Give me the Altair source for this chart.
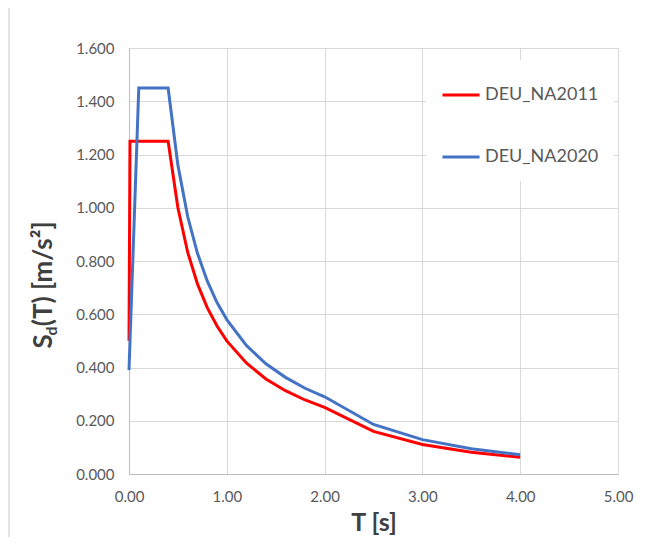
import altair as alt
import pandas as pd

SERIES = ["DEU_NA2011", "DEU_NA2020"]
COLORS = ["#FF0000", "#4472C4"]

T_2011 = [0.0, 0.01, 0.4, 0.5, 0.6, 0.7, 0.8, 0.9, 1.0, 1.2, 1.4, 1.6, 1.8, 2.0, 2.5, 3.0, 3.5, 4.0]
SD_2011 = [0.50, 1.25, 1.25, 1.00, 0.833, 0.714, 0.625, 0.556, 0.50, 0.417, 0.357, 0.313, 0.278, 0.25, 0.16, 0.111, 0.082, 0.0625]

T_2020 = [0.0, 0.1, 0.4, 0.5, 0.6, 0.7, 0.8, 0.9, 1.0, 1.2, 1.4, 1.6, 1.8, 2.0, 2.5, 3.0, 3.5, 4.0]
SD_2020 = [0.39, 1.45, 1.45, 1.16, 0.967, 0.829, 0.725, 0.644, 0.58, 0.483, 0.414, 0.363, 0.322, 0.29, 0.186, 0.129, 0.095, 0.0725]

X_TICKS = [0, 1, 2, 3, 4, 5]
Y_TICKS = [0.0, 0.2, 0.4, 0.6, 0.8, 1.0, 1.2, 1.4, 1.6]

df = pd.DataFrame({
    "T": T_2011 + T_2020,
    "Sd": SD_2011 + SD_2020,
    "series": [SERIES[0]] * len(T_2011) + [SERIES[1]] * len(T_2020),
    "idx": list(range(len(T_2011))) + list(range(len(T_2020))),
})

W, H = 489, 426
LABEL_COLOR = "#595959"
TITLE_COLOR = "#404040"

lines = alt.Chart(df).mark_line(strokeWidth=3).encode(
    x=alt.X("T:Q", scale=alt.Scale(domain=[0, 5], nice=False),
            axis=alt.Axis(values=X_TICKS, format=".2f", title="T [s]",
                          labelPadding=15, titlePadding=6, labelFlush=False,
                          titleFont="Lato", titleFontWeight="bold",
                          titleFontSize=25, titleColor=TITLE_COLOR)),
    y=alt.Y("Sd:Q", scale=alt.Scale(domain=[0, 1.6], nice=False),
            axis=alt.Axis(values=Y_TICKS, format=".3f", title=None,
                          labelPadding=15, labelFlush=False)),
    color=alt.Color("series:N",
                    scale=alt.Scale(domain=SERIES, range=COLORS),
                    legend=alt.Legend(title=None, orient="none",
                                      legendX=297, legendY=12,
                                      padding=15, fillColor="white",
                                      symbolType="stroke", symbolSize=1369,
                                      symbolStrokeWidth=3,
                                      labelFont="Lato", labelFontSize=18,
                                      labelColor=LABEL_COLOR, labelOffset=4,
                                      rowPadding=33)),
    order="idx:Q",
)

blank = alt.Data(values=[{}])

def ytxt(t, size, x, y):
    return alt.Chart(blank).mark_text(
        text=t, angle=270, align="left", baseline="alphabetic",
        font="Lato", fontWeight="bold", fontSize=size, color=TITLE_COLOR
    ).encode(x=alt.value(x), y=alt.value(y))

S_W = 13.0
D_W = 9.3
Y0 = 300.5
t1 = ytxt("S", 26, -77, Y0)
t2 = ytxt("d", 16, -72, Y0 - S_W)
t3 = ytxt("(T) [m/s²]", 26, -77, Y0 - S_W - D_W)

border_top = alt.Chart(blank).mark_rule(color="#D9D9D9", strokeWidth=1.5).encode(
    x=alt.value(-120), x2=alt.value(520), y=alt.value(-41))
border_left = alt.Chart(blank).mark_rule(color="#D9D9D9", strokeWidth=1.5).encode(
    x=alt.value(-120), y=alt.value(-41), y2=alt.value(500))

chart = alt.layer(border_top, border_left, lines, t1, t2, t3).properties(
    width=W, height=H,
    autosize=alt.AutoSizeParams(type="none"),
    padding={"left": 121, "top": 40, "right": 22, "bottom": 63},
    background="white",
).configure_axis(
    labelFont="Lato", labelFontSize=15, labelColor=LABEL_COLOR,
    gridColor="#D9D9D9", gridWidth=1, domainColor="#BFBFBF", domainWidth=1,
    ticks=False, tickSize=0,
).configure_view(stroke=None)

chart.save("out.html", embed_options={"renderer": "svg", "actions": False})
